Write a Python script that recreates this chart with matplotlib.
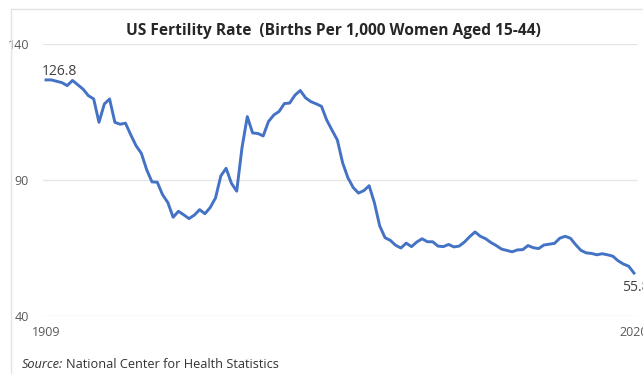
import matplotlib
matplotlib.use('Agg')
import matplotlib.pyplot as plt
from matplotlib.patches import Rectangle

# General fertility rate, births per 1,000 women aged 15-44
years = list(range(1909, 2021))
rate = [126.8, 126.8, 126.3, 125.8, 124.7, 126.6, 125.0, 123.4, 121.0, 119.8,
        111.2, 117.9, 119.8, 111.2, 110.5, 110.9, 106.6, 102.6, 99.8, 93.8,
        89.3, 89.2, 84.6, 81.7, 76.3, 78.5, 77.2, 75.8, 77.1, 79.1,
        77.6, 79.9, 83.4, 91.5, 94.3, 88.8, 85.9, 101.9, 113.3, 107.3,
        107.1, 106.2, 111.5, 113.9, 115.2, 118.1, 118.3, 121.2, 122.9, 120.2,
        118.8, 118.0, 117.1, 112.0, 108.3, 104.7, 96.3, 90.8, 87.2, 85.2,
        86.1, 87.9, 81.6, 73.1, 68.8, 67.8, 66.0, 65.0, 66.8, 65.5,
        67.2, 68.4, 67.3, 67.3, 65.7, 65.5, 66.3, 65.4, 65.7, 67.2,
        69.2, 70.9, 69.3, 68.4, 67.0, 65.9, 64.6, 64.1, 63.6, 64.3,
        64.4, 65.9, 65.1, 64.8, 66.1, 66.4, 66.7, 68.6, 69.3, 68.6,
        66.2, 64.1, 63.2, 63.0, 62.5, 62.9, 62.5, 62.0, 60.3, 59.1,
        58.3, 55.8]
y_ticks = [40, 90, 140]
x_ticks = [1909, 2020]

W, H = 643, 374
fig = plt.figure(figsize=(W / 100, H / 100), dpi=100)
fig.patch.set_facecolor('white')

# thin grey frame around the chart card
fig.patches.append(Rectangle((11 / W, -0.1), 1.2, 1.1 - 9 / H,
                             transform=fig.transFigure, fill=False,
                             edgecolor='#e3e3e3', linewidth=1.0))

ax = fig.add_axes([43 / W, (H - 316) / H, (638 - 43) / W, (316 - 44) / H])
ax.plot(years, rate, color='#4472c4', linewidth=2.1, solid_joinstyle='round')

ax.set_ylim(40, 140)
ax.set_xlim(1908.43, 2020.76)
ax.set_yticks(y_ticks)
ax.set_xticks(x_ticks)
ax.grid(axis='y', color='#e6e6e6', linewidth=1.0)
ax.set_axisbelow(True)
for s in ax.spines.values():
    s.set_visible(False)
ax.tick_params(length=0, labelsize=9, labelcolor='#595959')
ax.tick_params(axis='y', pad=10)
ax.tick_params(axis='x', pad=7)
for lab in ax.get_xticklabels() + ax.get_yticklabels():
    lab.set_family('Open Sans')

# first / last values
ax.annotate(f'{rate[0]:.1f}', (years[0], rate[0]), xytext=(-4, 1),
            textcoords='offset pixels', ha='left', va='bottom',
            fontsize=10, color='#404040', family='Open Sans')
ax.annotate(f'{rate[-1]:.1f}', (years[-1], rate[-1]), xytext=(-12, -7),
            textcoords='offset pixels', ha='left', va='top',
            fontsize=10, color='#404040', family='Open Sans',
            annotation_clip=False)

fig.text(333 / W, 1 - 31 / H, 'US Fertility Rate  (Births Per 1,000 Women Aged 15-44)',
         ha='center', va='center', fontsize=11.2, fontweight='bold',
         color='#262626', family='Open Sans')

# source line: italic "Source:" followed by regular text
t1 = fig.text(22 / W, 1 - 364 / H, 'Source:', ha='left', va='center',
              fontsize=9.2, style='italic', color='#333333', family='Open Sans')
fig.canvas.draw()
bb = t1.get_window_extent(fig.canvas.get_renderer())
fig.text((bb.x1 + 3) / W, 1 - 364 / H, 'National Center for Health Statistics',
         ha='left', va='center', fontsize=9.2, color='#333333', family='Open Sans')

fig.savefig('out.png', dpi=100)
